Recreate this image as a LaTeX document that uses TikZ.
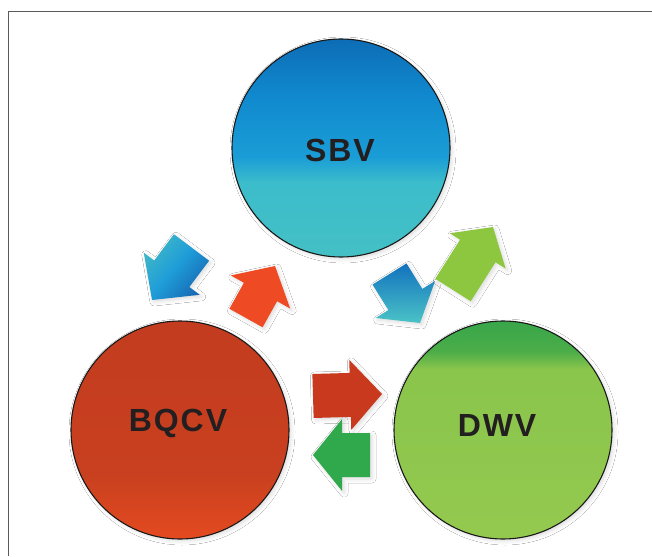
\documentclass[tikz,border=0pt]{standalone}
\usepackage{fontspec}
\setmainfont{Liberation Sans}
\newfontfamily\lblfont[LetterSpace=6]{Liberation Sans}
\usetikzlibrary{calc,shadows.blur}
\definecolor{sbvTop}{HTML}{0D6DB6}
\definecolor{sbvMid}{HTML}{1089CE}
\definecolor{sbvLow}{HTML}{1A9DD6}
\definecolor{sbvCyan}{HTML}{3CBDCB}
\definecolor{sbvBot}{HTML}{44C0C5}
\definecolor{bqTop}{HTML}{C33C1F}
\definecolor{bqMid}{HTML}{C8401F}
\definecolor{bqBot}{HTML}{E44A20}
\definecolor{dwTop}{HTML}{38A64A}
\definecolor{dwUp}{HTML}{4BAD48}
\definecolor{dwMid}{HTML}{8AC54C}
\definecolor{dwBot}{HTML}{94C94F}
\definecolor{aTeal}{HTML}{3FB7C8}
\definecolor{aMidB}{HTML}{1E9CD8}
\definecolor{aBlue}{HTML}{1768B3}
\definecolor{aRedL}{HTML}{EE4B24}
\definecolor{aTopB}{HTML}{1272BE}
\definecolor{aBotC}{HTML}{4BC3C7}
\definecolor{aGreenL}{HTML}{8DC63F}
\definecolor{aRedD}{HTML}{C9391E}
\definecolor{aGreenD}{HTML}{30A94D}
\definecolor{txtcol}{HTML}{231F20}
\definecolor{framecol}{HTML}{5A5A5A}
\pgfdeclareverticalshading{sbvshade}{100bp}{color(0bp)=(sbvBot); color(25bp)=(sbvBot); color(42bp)=(sbvCyan); color(48bp)=(sbvLow); color(62bp)=(sbvMid); color(75bp)=(sbvTop); color(100bp)=(sbvTop)}
\pgfdeclareverticalshading{bqshade}{100bp}{color(0bp)=(bqBot); color(25bp)=(bqBot); color(40bp)=(bqMid); color(75bp)=(bqTop); color(100bp)=(bqTop)}
\pgfdeclareverticalshading{dwshade}{100bp}{color(0bp)=(dwBot); color(25bp)=(dwBot); color(64bp)=(dwMid); color(68bp)=(dwUp); color(75bp)=(dwTop); color(100bp)=(dwTop)}
% block arrow: name, back point, tip point, head fraction, head half width, shaft half width, style
\newcommand\blockarr[7]{%
  \coordinate (#1-b) at #2;
  \coordinate (#1-t) at #3;
  \coordinate (#1-h) at ($(#1-b)!#4!(#1-t)$);
  \path[#7] ($(#1-b)!#6!90:(#1-t)$) -- ($(#1-h)!#6!90:(#1-t)$) -- ($(#1-h)!#5!90:(#1-t)$) -- (#1-t) -- ($(#1-h)!#5!-90:(#1-t)$) -- ($(#1-h)!#6!-90:(#1-t)$) -- ($(#1-b)!#6!-90:(#1-t)$) -- cycle;
}
\begin{document}
\begin{tikzpicture}[x=1pt,y=-1pt,
  softshadow/.style={blur shadow={shadow xshift=2pt, shadow yshift=-2pt, shadow blur radius=4pt, shadow opacity=14}},
  bubble/.style={circle, minimum size=218pt, inner sep=0pt, draw=black!90, line width=1.1pt, shade, softshadow},
  lbl/.style={font=\lblfont\bfseries\fontsize{32}{36}\selectfont, text=txtcol, inner sep=0pt},
  framestyle/.style={draw=framecol, line width=1.5pt}]
\useasboundingbox (0,0) rectangle (652,556);
\fill[white] (0,0) rectangle (652,556);
\draw[framestyle] (8.5,556) -- (8.5,11.5) -- (652,11.5);

\node[bubble, shading=sbvshade] (sbv) at (341,148) {};
\node[bubble, shading=bqshade] (bqcv) at (180,430) {};
\node[bubble, shading=dwshade] (dwv) at (503,430) {};

\node[lbl] (sbvtext) at (340,150) {SBV};
\node[lbl] (bqcvtext) at (178,423) {BQCV};
\node[lbl] (dwvtext) at (497,425) {DWV};

\blockarr{a1}{(191.5,247.5)}{(152,300)}{0.5}{35pt}{22pt}{shade, left color=aTeal, right color=aBlue, middle color=aMidB, shading angle=50, softshadow}
\blockarr{a2}{(246,318)}{(275,266)}{0.5}{34pt}{19pt}{fill=aRedL, softshadow}
\blockarr{a3}{(389.5,274)}{(420,323)}{0.52}{35pt}{20pt}{shade, top color=aTopB, bottom color=aBotC, softshadow}
\blockarr{a4}{(453,290)}{(493,227)}{0.62}{33pt}{21pt}{fill=aGreenL, softshadow}
\blockarr{a5}{(313,396)}{(382,394)}{0.54}{35pt}{22pt}{fill=aRedD, softshadow}
\blockarr{a6}{(370,455)}{(313,455)}{0.49}{36pt}{22pt}{fill=aGreenD, softshadow}
\end{tikzpicture}
\end{document}
